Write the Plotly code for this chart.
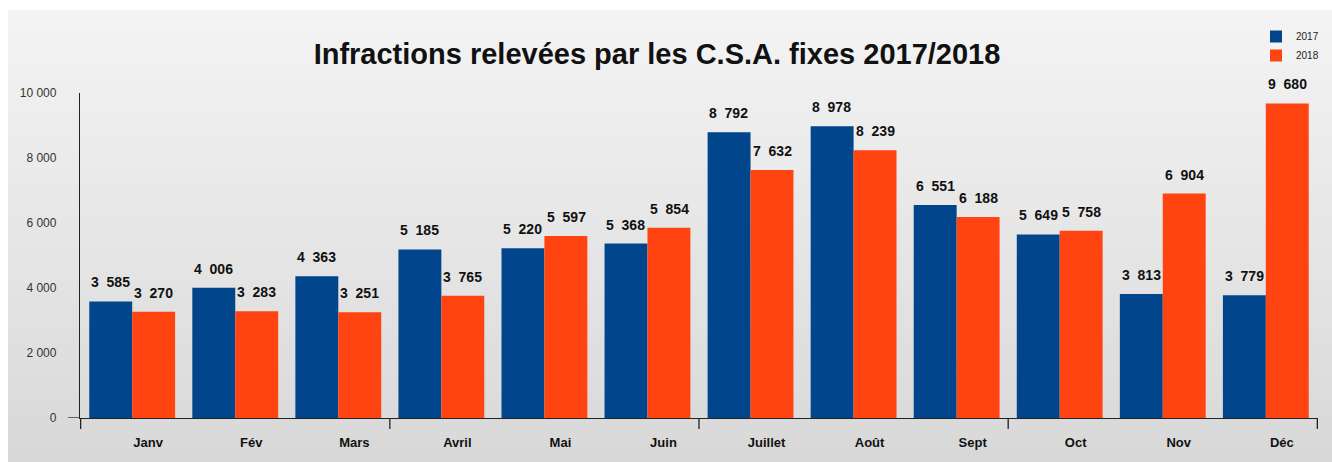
import plotly.graph_objects as go

months = ["Janv", "Fév", "Mars", "Avril", "Mai", "Juin",
          "Juillet", "Août", "Sept", "Oct", "Nov", "Déc"]
values_2017 = [3585, 4006, 4363, 5185, 5220, 5368, 8792, 8978, 6551, 5649, 3813, 3779]
values_2018 = [3270, 3283, 3251, 3765, 5597, 5854, 7632, 8239, 6188, 5758, 6904, 9680]
y_ticks = [0, 2000, 4000, 6000, 8000, 10000]

BLUE = "#01468c"
ORANGE = "#ff4411"
FONT = "Liberation Sans, Arial, sans-serif"

W, H = 1332, 462
PL, PR, PT, PB = 80, 1318, 93, 418   # plot area in pixels
PW, PH = PR - PL, PB - PT


def fmt(v):
    return f"{v:,}".replace(",", "\u00a0\u00a0")


fig = go.Figure()
fig.add_trace(go.Bar(x=months, y=values_2017, name="2017", marker_color=BLUE,
                     marker_line_width=0))
fig.add_trace(go.Bar(x=months, y=values_2018, name="2018", marker_color=ORANGE,
                     marker_line_width=0))

# value labels above each bar
annotations = []
half_bar_px = 21.6
for series, shift in ((values_2017, -half_bar_px), (values_2018, half_bar_px)):
    for m, v in zip(months, series):
        annotations.append(dict(
            x=m, y=v, xref="x", yref="y", text=fmt(v), showarrow=False,
            xshift=shift, yshift=9, yanchor="bottom", xanchor="center",
            font=dict(family=FONT, size=14, color="#111111", weight="bold"),
        ))

# soft vertical gradient panel behind the chart
shapes = []
n_bands = 40
top_px, bot_px = 11, H
c_top, c_bot = 0xF4, 0xD8
for i in range(n_bands):
    y0_px = top_px + (bot_px - top_px) * i / n_bands
    y1_px = top_px + (bot_px - top_px) * (i + 1) / n_bands
    c = round(c_top + (c_bot - c_top) * (i + 0.5) / n_bands)
    shapes.append(dict(
        type="rect", xref="paper", yref="paper", layer="below",
        x0=(8 - PL) / PW, x1=(W - PL) / PW,
        y0=(PB - y1_px) / PH, y1=(PB - y0_px) / PH + 0.002,
        fillcolor=f"rgb({c},{c},{c})", line_width=0,
    ))

# quarter separator ticks below the category axis
for pos in (-0.5, 2.5, 5.5, 8.5, 11.5):
    shapes.append(dict(type="line", xref="x", yref="paper", x0=pos, x1=pos,
                       y0=0, y1=-11 / PH, line=dict(color="#222222", width=1.3)))
# tick at zero on the value axis
shapes.append(dict(type="line", xref="paper", yref="y", x0=-12 / PW, x1=0,
                   y0=0, y1=0, line=dict(color="#222222", width=1.3)))

fig.update_layout(
    width=W, height=H,
    margin=dict(l=PL, r=W - PR, t=PT, b=H - PB, autoexpand=False),
    paper_bgcolor="white",
    plot_bgcolor="rgba(0,0,0,0)",
    separators=", ",
    barmode="group",
    bargap=0.167,
    bargroupgap=0,
    title=dict(text="<b>Infractions relevées par les C.S.A. fixes 2017/2018</b>",
               x=657 / W, xanchor="center", y=1 - 54 / H, yanchor="middle",
               font=dict(family=FONT, size=29, color="#111111")),
    font=dict(family=FONT),
    xaxis=dict(
        showgrid=False, showline=True, linecolor="#222222", linewidth=1.3,
        ticks="", ticklabelshift=16, ticklabelstandoff=12,
        tickfont=dict(family=FONT, size=13, color="#111111", weight="bold"),
    ),
    yaxis=dict(
        range=[0, 10000], tickvals=y_ticks, tickformat=",d",
        showgrid=False, zeroline=False, showline=True, linecolor="#222222",
        linewidth=1.3, ticks="", ticklabelstandoff=20,
        tickfont=dict(family=FONT, size=12, color="#333333"),
    ),
    legend=dict(x=1324 / W, xref="container", y=1 - 22 / H, yref="container",
                xanchor="right", yanchor="top", bgcolor="rgba(0,0,0,0)",
                font=dict(family=FONT, size=10, color="#222222"),
                itemwidth=30, tracegroupgap=0),
    showlegend=True,
    annotations=annotations,
    shapes=shapes,
)

fig.write_html("out.html")
